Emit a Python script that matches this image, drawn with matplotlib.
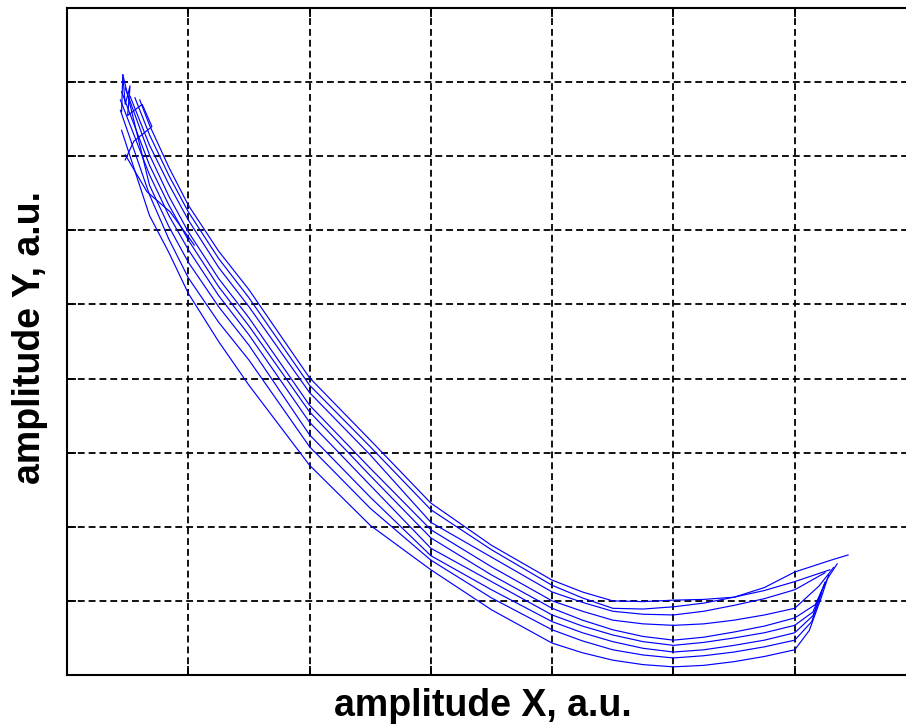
import matplotlib
matplotlib.use('Agg')
import matplotlib.pyplot as plt

# Lissajous-like trajectory (arbitrary units).
# Each strand runs from the top-left cluster to the bottom-right cluster;
# its middle part is sampled at the common x columns below.
x_cols = [0.68, 0.84, 1.0, 1.25, 1.5, 2.0, 2.5, 3.0, 3.5,
          4.0, 4.25, 4.5, 4.75, 5.0, 5.25, 5.5, 5.75, 6.0]

strand0_start = [(0.60, 7.76)]
strand0_y = [7.42, 6.85, 6.34, 5.72, 5.20, 4.01, 3.17, 2.32, 1.75,
             1.28, 1.12, 1.00, 0.99, 1.01, 1.02, 1.05, 1.18, 1.39]
strand0_end = [(6.30, 1.55), (6.44, 1.62)]

strand1_start = [(0.56, 7.79)]
strand1_y = [7.29, 6.74, 6.25, 5.62, 5.09, 3.91, 3.08, 2.23, 1.69,
             1.21, 1.04, 0.90, 0.89, 0.92, 0.97, 1.05, 1.14, 1.26]
strand1_end = [(6.29, 1.42)]

strand2_start = [(0.52, 7.81)]
strand2_y = [7.15, 6.62, 6.14, 5.50, 4.97, 3.81, 2.97, 2.06, 1.59,
             1.12, 0.98, 0.86, 0.82, 0.81, 0.86, 0.94, 1.03, 1.15]
strand2_end = [(6.25, 1.38)]

strand3_start = [(0.48, 7.92)]
strand3_y = [7.02, 6.46, 5.98, 5.35, 4.82, 3.64, 2.79, 1.96, 1.46,
             1.00, 0.86, 0.74, 0.69, 0.67, 0.69, 0.74, 0.81, 0.90]
strand3_end = [(6.20, 1.20), (6.32, 1.45)]

strand4_start = [(0.45, 7.87)]
strand4_y = [6.88, 6.34, 5.87, 5.24, 4.71, 3.55, 2.69, 1.85, 1.35,
             0.90, 0.74, 0.61, 0.52, 0.47, 0.51, 0.58, 0.66, 0.77]
strand4_end = [(6.17, 0.95), (6.27, 1.30), (6.35, 1.50)]

strand5_start = [(0.44, 7.76)]
strand5_y = [6.75, 6.20, 5.74, 5.12, 4.59, 3.41, 2.56, 1.71, 1.26,
             0.81, 0.66, 0.54, 0.45, 0.40, 0.44, 0.50, 0.57, 0.67]
strand5_end = [(6.15, 0.85), (6.25, 1.25)]

strand6_start = [(0.46, 8.10)]
strand6_y = [6.61, 6.05, 5.57, 4.97, 4.45, 3.24, 2.40, 1.61, 1.15,
             0.72, 0.57, 0.45, 0.36, 0.31, 0.34, 0.40, 0.47, 0.57]
strand6_end = [(6.15, 0.80), (6.25, 1.25)]

strand7_start = [(0.44, 7.62)]
strand7_y = [6.48, 5.88, 5.36, 4.76, 4.25, 3.08, 2.25, 1.55, 1.04,
             0.61, 0.46, 0.34, 0.27, 0.23, 0.26, 0.31, 0.38, 0.47]
strand7_end = [(6.14, 0.72), (6.22, 1.10)]

strand8_start = [(0.45, 7.35)]
strand8_y = [6.20, 5.70, 5.15, 4.50, 3.91, 2.83, 2.02, 1.42, 0.88,
             0.43, 0.30, 0.20, 0.14, 0.11, 0.13, 0.18, 0.25, 0.34]
strand8_end = [(6.12, 0.60), (6.22, 1.05), (6.28, 1.35)]

# small wiggles around the top-left turning point
tip_x = [0.45, 0.46, 0.48, 0.52, 0.50, 0.62, 0.70, 0.55, 0.48]
tip_y = [7.60, 8.10, 7.70, 7.95, 7.55, 7.70, 7.40, 7.20, 6.95]
cross_x = [0.48, 0.66, 0.85, 1.05]
cross_y = [7.02, 6.52, 6.25, 5.80]

strands = [
    (strand0_start, strand0_y, strand0_end),
    (strand1_start, strand1_y, strand1_end),
    (strand2_start, strand2_y, strand2_end),
    (strand3_start, strand3_y, strand3_end),
    (strand4_start, strand4_y, strand4_end),
    (strand5_start, strand5_y, strand5_end),
    (strand6_start, strand6_y, strand6_end),
    (strand7_start, strand7_y, strand7_end),
    (strand8_start, strand8_y, strand8_end),
]

fig = plt.figure(figsize=(9.06, 7.28), dpi=100)
ax = fig.add_axes([67 / 906, 53 / 728, 849 / 906, 667 / 728])
ax.set_xlim(0, 7)
ax.set_ylim(0, 9)

line_kw = dict(color='#0000ff', lw=0.85, zorder=3)
for start, ys, end in strands:
    xs = [p[0] for p in start] + x_cols + [p[0] for p in end]
    yy = [p[1] for p in start] + ys + [p[1] for p in end]
    ax.plot(xs, yy, **line_kw)
ax.plot(tip_x, tip_y, **line_kw)
ax.plot(cross_x, cross_y, **line_kw)

ax.set_xticks(range(0, 8))
ax.set_yticks(range(0, 10))
ax.set_xticklabels([])
ax.set_yticklabels([])
ax.tick_params(direction='in', length=6.5, width=1.3, top=True, right=True, color='black')
ax.grid(True, color='black', lw=1.3, linestyle=(0, (3.8, 2.2)))
for side in ('left', 'bottom', 'top', 'right'):
    ax.spines[side].set_linewidth(1.5)

font = dict(family=['Liberation Sans', 'DejaVu Sans'], fontsize=27, fontweight='bold')
fig.text(483 / 906, 1 - 706 / 728, 'amplitude X, a.u.', ha='center', va='center', **font)
fig.text(30 / 906, 1 - 338 / 728, 'amplitude Y, a.u.', ha='center', va='center', rotation=90, **font)

fig.savefig('out.png', dpi=100)
